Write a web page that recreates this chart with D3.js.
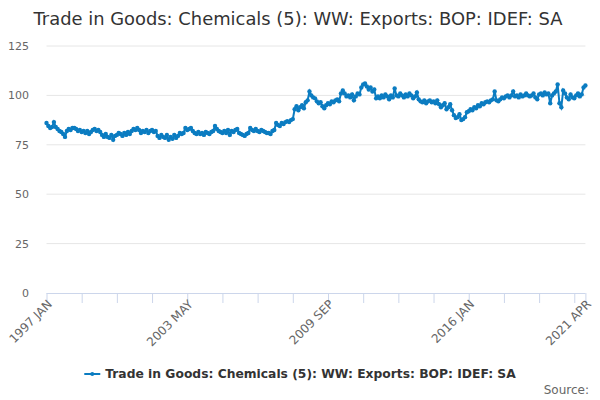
<!DOCTYPE html>
<html>
<head>
<meta charset="utf-8">
<script src="https://cdn.jsdelivr.net/npm/d3@7"></script>
<style>
  body { margin: 0; background: #fff; }
  text { font-family: "DejaVu Sans", sans-serif; }
</style>
</head>
<body>
<div id="chart"></div>
<script>
const title = "Trade in Goods: Chemicals (5): WW: Exports: BOP: IDEF: SA";
const seriesName = "Trade in Goods: Chemicals (5): WW: Exports: BOP: IDEF: SA";
const monthNames = ["JAN","FEB","MAR","APR","MAY","JUN","JUL","AUG","SEP","OCT","NOV","DEC"];
const startYear = 1997;

// monthly values, 1997 JAN .. 2021 APR
const values = [
  86, 84.5, 83.5, 84, 86.5, 84, 83, 82, 81.5, 80.5,
  79, 82, 83, 82.5, 83.5, 83.5, 83, 82, 82.5, 81.5,
  82, 81, 82, 80.5, 81.5, 82.5, 83, 82, 82.5, 81.5,
  80, 79, 80.5, 79, 78.5, 80, 77.5, 79.5, 80, 81,
  80.5, 79.5, 81, 80, 81.5, 80.5, 82, 83, 82.5, 83.5,
  82.5, 81, 82, 81.5, 82.5, 81, 82, 82.5, 81.5, 82,
  79.5, 78.5, 80, 79, 78.5, 80, 77.5, 79, 78, 80,
  78.5, 79.5, 81, 80.5, 81, 83.5, 82.5, 83, 83.5, 82,
  81, 80.5, 81.5, 80.5, 81, 80, 81.5, 81, 80.5, 81.5,
  82, 84.5, 83, 82, 81.5, 81, 82, 81, 82.5, 80,
  82, 81.5, 82.5, 83, 81, 80.5, 80, 79.5, 80.5, 81,
  83.5, 82.5, 82, 83, 82, 81.5, 82.5, 82, 81.5, 81,
  81, 80.5, 82, 82.5, 86, 85, 84.5, 86, 85.5, 86.5,
  87, 86.5, 87.5, 88, 93, 94.5, 92.5, 94, 95, 93.5,
  96.5, 97.5, 102, 100, 99, 98.5, 97, 96, 96.5, 94.5,
  93.5, 95, 96, 95.5, 97, 96.5, 97.5, 98, 97, 101,
  102.5, 101, 99.5, 100, 99, 100.5, 97.5, 99.5, 101, 100.5,
  104, 105.5, 106, 104.5, 103, 104, 102, 103, 98.5, 99.5,
  98.5, 100, 99, 100.5, 99.5, 98, 100, 99, 103.5, 100,
  99.5, 101, 100, 99, 100.5, 99.5, 101, 100, 98.5, 99.5,
  101.5, 98, 97, 96.5, 97.5, 96, 97, 97.5, 96.5, 97,
  96, 97.5, 95.5, 94, 95, 96, 93, 94, 95.5, 92.5,
  90, 88.5, 89, 90.5, 87.5, 88, 89, 91.5, 92, 93,
  92.5, 94, 93.5, 95, 94.5, 96, 95.5, 96.5, 97, 96.5,
  97.5, 98, 102, 97.5, 97, 98, 99, 98.5, 99.5, 100,
  99, 100, 102, 99.5, 100, 99, 100.5, 99.5, 100, 101,
  100, 99.5, 100, 101, 99, 98, 100.5, 101, 100, 101.5,
  100.5, 101, 96, 100, 101, 102, 105.5, 96, 94, 102.5,
  101, 99, 98, 100.5, 99, 98.5, 100, 101, 99.5, 100.5,
  104, 105
];
const yTicks = [0, 25, 50, 75, 100, 125];
const tickEvery = 19;
const labelEvery = 76;

const categories = values.map((v, i) => {
  const y = startYear + Math.floor(i / 12);
  return y + " " + monthNames[i % 12];
});

const width = 600, height = 400;
const margin = { left: 46.5, right: 14.6, top: 46, bottom: 107 };
const color = "#0b7cc1";

const svg = d3.select("#chart").append("svg")
  .attr("width", width)
  .attr("height", height);

svg.append("text")
  .attr("x", 298)
  .attr("y", 25)
  .attr("text-anchor", "middle")
  .style("font-size", "17.9px")
  .style("fill", "#333")
  .text(title);

const x = d3.scalePoint()
  .domain(categories)
  .range([margin.left, width - margin.right]);

const y = d3.scaleLinear()
  .domain([0, 125])
  .range([height - margin.bottom, margin.top]);

// gridlines
svg.append("g")
  .selectAll("line")
  .data(yTicks.filter(d => d > 0))
  .join("line")
  .attr("x1", margin.left)
  .attr("x2", width - margin.right)
  .attr("y1", d => y(d))
  .attr("y2", d => y(d))
  .style("stroke", "#e6e6e6");

// y labels
svg.append("g")
  .selectAll("text")
  .data(yTicks)
  .join("text")
  .attr("x", 29)
  .attr("y", d => y(d))
  .attr("dy", 4)
  .attr("text-anchor", "end")
  .style("font-size", "11px")
  .style("fill", "#666")
  .text(d => d);

// x axis
const tickCats = categories.filter((c, i) => i % tickEvery === 0 || i === categories.length - 1);
const labelCats = categories.filter((c, i) => i % labelEvery === 0 || i === categories.length - 1);

const xAxis = d3.axisBottom(x)
  .tickValues(tickCats)
  .tickSize(10)
  .tickFormat(d => labelCats.includes(d) ? d : "");

const gx = svg.append("g")
  .attr("transform", "translate(0," + y(0) + ")")
  .call(xAxis);

gx.select(".domain").attr("d", "M" + margin.left + ",0.5H" + (width - margin.right)).style("stroke", "#ccd6eb");
gx.selectAll(".tick line").style("stroke", "#ccd6eb");
gx.selectAll(".tick text")
  .style("font-size", "12px")
  .style("fill", "#666")
  .style("font-family", "DejaVu Sans, sans-serif")
  .attr("text-anchor", "end")
  .attr("x", 0)
  .attr("y", 0)
  .attr("dy", "0.35em")
  .attr("transform", "translate(3,9) rotate(-45)");

// series
const line = d3.line()
  .x((d, i) => x(categories[i]))
  .y(d => y(d));

svg.append("path")
  .datum(values)
  .attr("d", line)
  .style("fill", "none")
  .style("stroke", color)
  .style("stroke-width", 2);

svg.append("g")
  .selectAll("circle")
  .data(values)
  .join("circle")
  .attr("cx", (d, i) => x(categories[i]))
  .attr("cy", d => y(d))
  .attr("r", 2.2)
  .style("fill", color);

// legend
const legend = svg.append("g");
const legendText = legend.append("text")
  .attr("x", 21)
  .attr("y", 378)
  .style("font-size", "12.3px")
  .style("font-weight", "bold")
  .style("fill", "#333")
  .text(seriesName);
const lw = legendText.node().getComputedTextLength() + 21;
legend.attr("transform", "translate(" + ((width - lw) / 2) + ",0)");
legend.append("line")
  .attr("x1", 0).attr("x2", 16)
  .attr("y1", 374).attr("y2", 374)
  .style("stroke", color)
  .style("stroke-width", 2);
legend.append("circle")
  .attr("cx", 8).attr("cy", 374).attr("r", 2)
  .style("fill", color);

svg.append("text")
  .attr("x", 589)
  .attr("y", 394)
  .attr("text-anchor", "end")
  .style("font-size", "12px")
  .style("fill", "#666")
  .text("Source:");
</script>
</body>
</html>
